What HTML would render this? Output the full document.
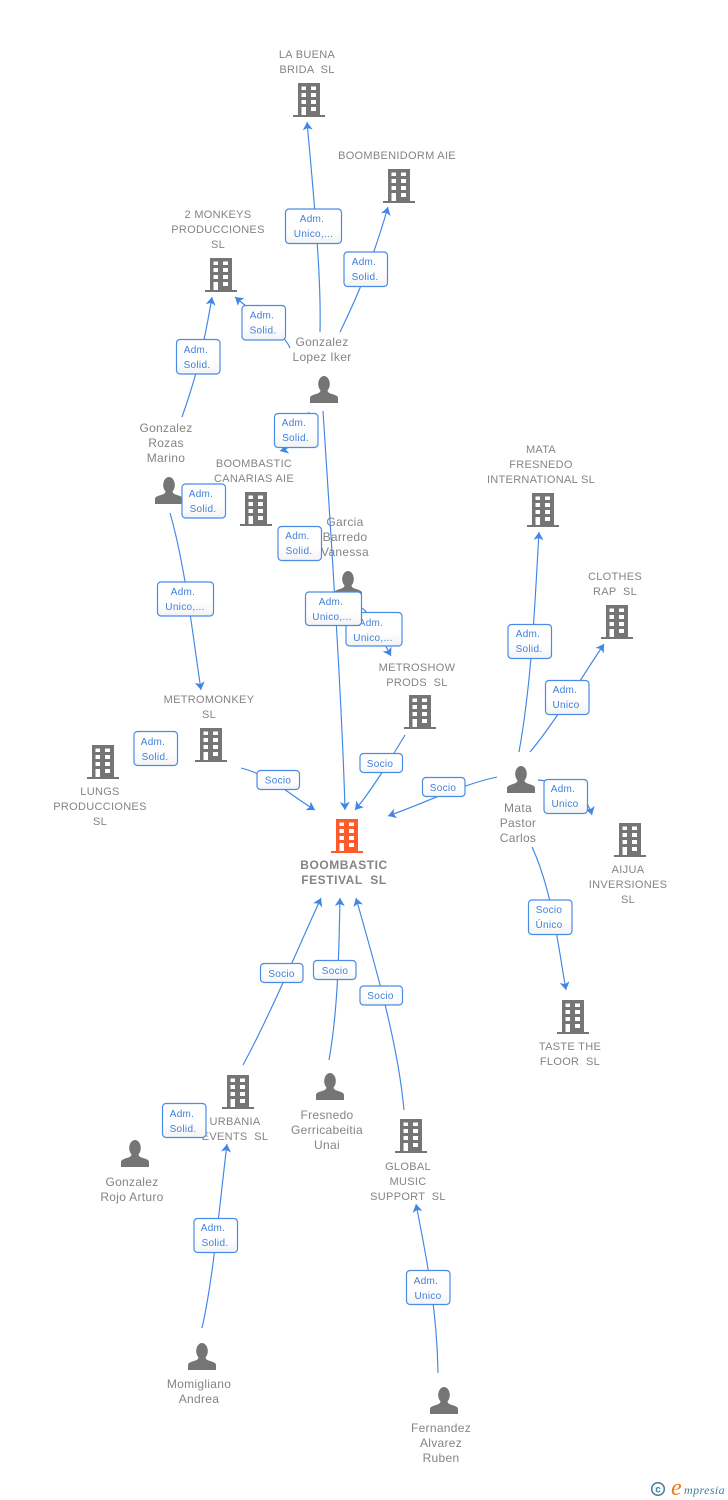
<!DOCTYPE html>
<html><head><meta charset="utf-8"><style>
html,body{margin:0;padding:0;background:#fff}
svg{display:block}
.e{fill:none;stroke:#3f86e6;stroke-width:1.15;marker-end:url(#a)}
text{font-family:"Liberation Sans",sans-serif;white-space:pre}
.b text,.p text{fill:#848484;text-anchor:middle}
.b text{font-size:11px;letter-spacing:.3px}
.p text{font-size:12px;letter-spacing:.3px}
.m text{font-weight:bold;font-size:12px;letter-spacing:.55px;fill:#848484;text-anchor:middle}
.l rect{fill:url(#g);stroke:#4a8be6;stroke-width:1.2}
.l text{font-size:10px;fill:#3f80dc;text-anchor:middle;letter-spacing:.3px}
</style></head><body>
<svg width="728" height="1500" viewBox="0 0 728 1500" xmlns="http://www.w3.org/2000/svg">
<defs>
<linearGradient id="g" x1="0" y1="0" x2="0" y2="1"><stop offset="0" stop-color="#fff"/><stop offset=".6" stop-color="#fff"/><stop offset="1" stop-color="#f3f3f3"/></linearGradient>
<marker id="a" markerUnits="userSpaceOnUse" markerWidth="10" markerHeight="11" refX="8" refY="5" orient="auto"><path d="M8,5 L0,0 L2,5 L0,10 Z" fill="#3f86e6"/></marker>
<symbol id="bd" viewBox="0 0 32 34" width="32" height="34" overflow="visible">
<path fill-rule="evenodd" d="M5,0H27V32H32V34H0V32H5ZM8.500,3.500V7H13V3.500ZM18,3.500V7H23V3.500ZM8.500,10V14H13V10ZM18,10V14H23V10ZM8.500,17V21H13V17ZM18,17V21H23V17ZM8.500,24V32H13V24ZM18,24V28H23V24Z"/>
</symbol>
<symbol id="pr" viewBox="0 0 28 27" width="28" height="27" overflow="visible">
<ellipse cx="14" cy="8" rx="5.800" ry="8"/><path d="M0,27V22C0,19.500 4,18.700 7.500,17.500C9.800,16.700 10.500,15.500 10.500,14H17.500C17.500,15.500 18.200,16.700 20.500,17.500C24,18.700 28,19.500 28,22V27Z"/>
</symbol>
</defs>

<!-- icons -->
<g fill="#757575">
<use href="#bd" x="293" y="83"/><use href="#bd" x="383" y="169"/><use href="#bd" x="205" y="258"/>
<use href="#bd" x="240" y="492"/><use href="#bd" x="527" y="493"/><use href="#bd" x="601" y="605"/>
<use href="#bd" x="404" y="695"/><use href="#bd" x="195" y="728"/><use href="#bd" x="87" y="745"/>
<use href="#bd" x="614" y="823"/><use href="#bd" x="557" y="1000"/><use href="#bd" x="222" y="1075"/>
<use href="#bd" x="395" y="1119"/>
<use href="#pr" x="310" y="376"/><use href="#pr" x="155" y="477"/><use href="#pr" x="334" y="571"/>
<use href="#pr" x="507" y="766"/><use href="#pr" x="121" y="1140"/><use href="#pr" x="316" y="1073"/>
<use href="#pr" x="188" y="1343"/><use href="#pr" x="430" y="1387"/>
</g>
<use href="#bd" x="331" y="819" fill="#ff5a2c"/>

<!-- node labels -->
<g class="b">
<text x="307" y="58">LA BUENA</text><text x="307" y="73">BRIDA  SL</text>
<text x="397" y="159">BOOMBENIDORM AIE</text>
<text x="218" y="218">2 MONKEYS</text><text x="218" y="233">PRODUCCIONES</text><text x="218" y="248">SL</text>
<text x="254" y="467">BOOMBASTIC</text><text x="254" y="482">CANARIAS AIE</text>
<text x="541" y="453">MATA</text><text x="541" y="468">FRESNEDO</text><text x="541" y="483">INTERNATIONAL SL</text>
<text x="615" y="580">CLOTHES</text><text x="615" y="595">RAP  SL</text>
<text x="417" y="671">METROSHOW</text><text x="417" y="686">PRODS  SL</text>
<text x="209" y="703">METROMONKEY</text><text x="209" y="718">SL</text>
<text x="100" y="795">LUNGS</text><text x="100" y="810">PRODUCCIONES</text><text x="100" y="825">SL</text>
<text x="628" y="873">AIJUA</text><text x="628" y="888">INVERSIONES</text><text x="628" y="903">SL</text>
<text x="570" y="1050">TASTE THE</text><text x="570" y="1065">FLOOR  SL</text>
<text x="235" y="1125">URBANIA</text><text x="235" y="1140">EVENTS  SL</text>
<text x="408" y="1170">GLOBAL</text><text x="408" y="1185">MUSIC</text><text x="408" y="1200">SUPPORT  SL</text>
</g>
<g class="m"><text x="344" y="869">BOOMBASTIC</text><text x="344" y="884">FESTIVAL  SL</text></g>
<g class="p">
<text x="322" y="346">Gonzalez</text><text x="322" y="361">Lopez Iker</text>
<text x="166" y="432">Gonzalez</text><text x="166" y="447">Rozas</text><text x="166" y="462">Marino</text>
<text x="345" y="526">Garcia</text><text x="345" y="541">Barredo</text><text x="345" y="556">Vanessa</text>
<text x="518" y="812">Mata</text><text x="518" y="827">Pastor</text><text x="518" y="842">Carlos</text>
<text x="132" y="1186">Gonzalez</text><text x="132" y="1201">Rojo Arturo</text>
<text x="327" y="1119">Fresnedo</text><text x="327" y="1134">Gerricabeitia</text><text x="327" y="1149">Unai</text>
<text x="199" y="1388">Momigliano</text><text x="199" y="1403">Andrea</text>
<text x="441" y="1432">Fernandez</text><text x="441" y="1447">Alvarez</text><text x="441" y="1462">Ruben</text>
</g>

<!-- connectors -->
<path class="e" d="M320,332C321,290 318,240 307,122"/>
<path class="e" d="M340,332C358,295 372,262 388,207"/>
<path class="e" d="M290,348C285,335 265,322 235,297"/>
<path class="e" d="M182,417C196,378 204,345 212,297"/>
<path class="e" d="M309,412C305,430 300,445 280,451"/>
<path class="e" d="M323,411C330,520 342,700 345,810"/>
<path class="e" d="M170,513C185,565 192,630 201,690"/>
<path class="e" d="M362,608C375,618 382,640 391,656"/>
<path class="e" d="M241,768C270,775 290,795 315,810"/>
<path class="e" d="M405,735C390,760 372,790 355,810"/>
<path class="e" d="M497,777C460,785 425,803 388,816"/>
<path class="e" d="M519,752C532,680 535,600 539,532"/>
<path class="e" d="M530,752C555,722 580,680 604,644"/>
<path class="e" d="M538,780C560,782 585,790 592,815"/>
<path class="e" d="M532,847C552,890 558,945 566,990"/>
<path class="e" d="M243,1065C270,1015 295,955 321,898"/>
<path class="e" d="M329,1060C338,1010 339,950 340,898"/>
<path class="e" d="M404,1110C398,1045 378,975 356,898"/>
<path class="e" d="M202,1328C213,1280 219,1210 227,1144"/>
<path class="e" d="M438,1373C437,1310 427,1260 416,1204"/>

<!-- connector labels -->
<g class="l">
<rect x="285.500" y="209" width="56" height="34.500" rx="3.500"/><text x="312" y="222">Adm.</text><text x="313.500" y="237">Unico,...</text>
<rect x="344" y="252" width="43.500" height="34.500" rx="3.500"/><text x="364" y="265">Adm.</text><text x="365" y="280">Solid.</text>
<rect x="242" y="305.500" width="43.500" height="34.500" rx="3.500"/><text x="262" y="318.500">Adm.</text><text x="263" y="333.500">Solid.</text>
<rect x="176.500" y="339.500" width="43.500" height="34.500" rx="3.500"/><text x="196" y="353">Adm.</text><text x="197" y="368">Solid.</text>
<rect x="274.500" y="413.500" width="43.500" height="34" rx="3.500"/><text x="294" y="426">Adm.</text><text x="295.500" y="441">Solid.</text>
<rect x="182" y="484" width="43.500" height="34" rx="3.500"/><text x="201" y="497">Adm.</text><text x="203" y="512">Solid.</text>
<rect x="278" y="526.500" width="43.500" height="34" rx="3.500"/><text x="297.500" y="539">Adm.</text><text x="299" y="554">Solid.</text>
<rect x="157.500" y="582" width="56" height="34" rx="3.500"/><text x="183" y="595">Adm.</text><text x="185" y="610">Unico,...</text>
<rect x="346" y="612.500" width="56" height="33.500" rx="3.500"/><text x="371" y="626">Adm.</text><text x="373" y="641">Unico,...</text>
<rect x="305.500" y="592" width="56" height="33.500" rx="3.500"/><text x="331" y="605">Adm.</text><text x="332" y="620">Unico,...</text>
<rect x="134" y="731.500" width="43.500" height="34" rx="3.500"/><text x="153" y="745">Adm.</text><text x="155" y="760">Solid.</text>
<rect x="257" y="770.500" width="42.500" height="19" rx="3.500"/><text x="278" y="783.500">Socio</text>
<rect x="360" y="753.500" width="42.500" height="19" rx="3.500"/><text x="380" y="767">Socio</text>
<rect x="422.500" y="777.500" width="42.500" height="19" rx="3.500"/><text x="443" y="791">Socio</text>
<rect x="508" y="624.500" width="43.500" height="34" rx="3.500"/><text x="528" y="637">Adm.</text><text x="529" y="652">Solid.</text>
<rect x="545.500" y="680.500" width="43.500" height="34" rx="3.500"/><text x="565" y="693">Adm.</text><text x="566" y="708">Unico</text>
<rect x="544" y="779.500" width="43.500" height="34" rx="3.500"/><text x="563" y="792">Adm.</text><text x="565" y="807">Unico</text>
<rect x="528.500" y="900" width="43.500" height="34.500" rx="3.500"/><text x="549" y="913">Socio</text><text x="549" y="928">Único</text>
<rect x="260.500" y="963.500" width="42.500" height="19" rx="3.500"/><text x="281.500" y="977">Socio</text>
<rect x="313.500" y="960.500" width="42.500" height="19" rx="3.500"/><text x="335" y="974">Socio</text>
<rect x="360" y="986" width="42.500" height="19" rx="3.500"/><text x="380.500" y="999">Socio</text>
<rect x="162.500" y="1103.500" width="43.500" height="34" rx="3.500"/><text x="182" y="1117">Adm.</text><text x="183" y="1132">Solid.</text>
<rect x="194" y="1218.500" width="43.500" height="34" rx="3.500"/><text x="213" y="1231">Adm.</text><text x="215" y="1246">Solid.</text>
<rect x="406.500" y="1270.500" width="43.500" height="34" rx="3.500"/><text x="426" y="1284">Adm.</text><text x="428" y="1299">Unico</text>
</g>

<!-- logo -->
<circle cx="658" cy="1489" r="6.300" fill="none" stroke="#3d7f9c" stroke-width="1.500"/>
<text x="658" y="1492.500" font-size="10" font-weight="bold" fill="#3d7f9c" text-anchor="middle">c</text>
<text x="671" y="1495" font-size="24" font-style="italic" fill="#f07a12" style="font-family:'Liberation Serif',serif">e</text>
<text x="684" y="1494" font-size="12" font-style="italic" fill="#3d7f9c" letter-spacing=".4" style="font-family:'Liberation Serif',serif">mpresia</text>
</svg>
</body></html>
